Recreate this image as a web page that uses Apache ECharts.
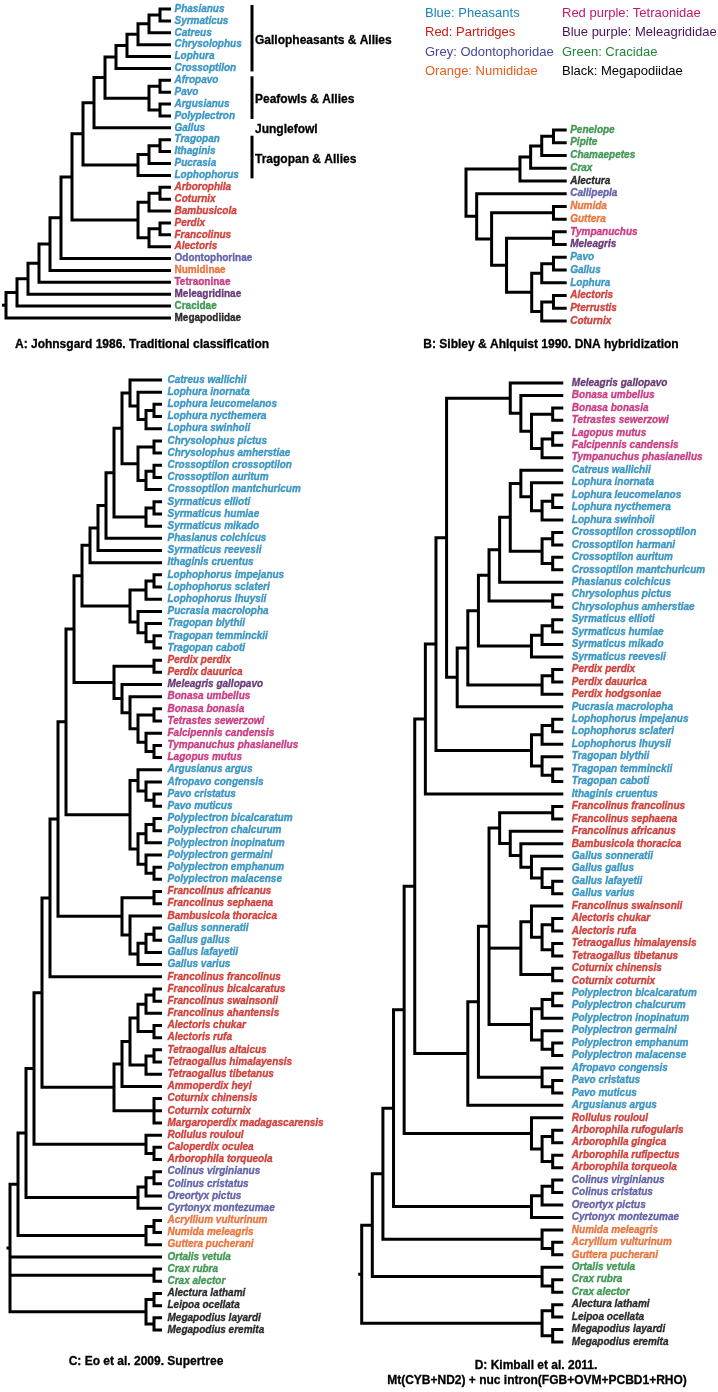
<!DOCTYPE html>
<html><head><meta charset="utf-8">
<script src="https://cdn.jsdelivr.net/npm/echarts@6/dist/echarts.min.js"></script>
<style>html,body{margin:0;padding:0;background:#fff}#c{width:718px;height:1392px}</style>
</head><body><div id="c"></div>
<script>
// ---------- colour groups ----------
const groupColors = {B:'#1783b9', R:'#c81d16', G:'#46479a', O:'#e65c1c', T:'#c0186c', M:'#4a145c', C:'#1f8636', K:'#000000'};
const legendCol1 = [['Blue: Pheasants','B'],['Red: Partridges','R'],['Grey: Odontophoridae','G'],['Orange: Numididae','O']];
const legendCol2 = [['Red purple: Tetraonidae','T'],['Blue purple: Meleagrididae','M'],['Green: Cracidae','C'],['Black: Megapodiidae','K']];
const genusGroup = {
  Phasianus:'B',Syrmaticus:'B',Catreus:'B',Chrysolophus:'B',Lophura:'B',Crossoptilon:'B',Afropavo:'B',Pavo:'B',Argusianus:'B',
  Polyplectron:'B',Gallus:'B',Tragopan:'B',Ithaginis:'B',Pucrasia:'B',Lophophorus:'B',
  Arborophila:'R',Coturnix:'R',Bambusicola:'R',Perdix:'R',Francolinus:'R',Alectoris:'R',Pterrustis:'R',Tetraogallus:'R',
  Ammoperdix:'R',Margaroperdix:'R',Rollulus:'R',Caloperdix:'R',
  Odontophorinae:'G',Callipepla:'G',Colinus:'G',Oreortyx:'G',Cyrtonyx:'G',
  Numidinae:'O',Numida:'O',Guttera:'O',Acryllium:'O',
  Tetraoninae:'T',Tympanuchus:'T',Bonasa:'T',Tetrastes:'T',Falcipennis:'T',Lagopus:'T',
  Meleagridinae:'M',Meleagris:'M',
  Cracidae:'C',Penelope:'C',Pipite:'C',Chamaepetes:'C',Crax:'C',Ortalis:'C',
  Megapodiidae:'K',Alectura:'K',Leipoa:'K',Megapodius:'K'
};
const familyLabels = ['Odontophorinae','Numidinae','Tetraoninae','Meleagridinae','Cracidae','Megapodiidae'];

// ---------- Tree A (node = [depth, children...]) ----------
const A_galloph = [10, [11, [12, [13, [14, 'Phasianus', 'Syrmaticus'], 'Catreus'], 'Chrysolophus'], 'Lophura'], 'Crossoptilon'];
const A_peafowl = [13, [14, 'Afropavo', 'Pavo'], [14, 'Argusianus', 'Polyplectron']];
const A_tragopan = [12, [13, [14, 'Tragopan', 'Ithaginis'], 'Pucrasia'], 'Lophophorus'];
const A_partridge = [12, [13, [14, 'Arborophila', 'Coturnix'], 'Bambusicola'], [13, [14, 'Perdix', 'Francolinus'], 'Alectoris']];
const treeA = [0, [1, [2, [3, [4, [5, [6, [7, [8, [9, A_galloph, A_peafowl], 'Gallus'], A_tragopan], A_partridge], 'Odontophorinae'], 'Numidinae'], 'Tetraoninae'], 'Meleagridinae'], 'Cracidae'], 'Megapodiidae'];
const A_groups = [
  ['Gallopheasants & Allies','Phasianus','Crossoptilon',true],
  ['Peafowls & Allies','Afropavo','Polyplectron',true],
  ['Junglefowl','Gallus','Gallus',false],
  ['Tragopan & Allies','Tragopan','Lophophorus',true]
];

// ---------- Tree B ----------
const B_cracid = [5.06, [6.06, [7.1, [8.2, 'Penelope', 'Pipite'], 'Chamaepetes'], 'Crax'], 'Alectura'];
const B_phasianid = [6.16, [7.1, [8.2, 'Pavo', 'Gallus'], 'Lophura'], [7.1, [8.2, 'Alectoris', 'Pterrustis'], 'Coturnix']];
const treeB = [0, B_cracid, [1, 'Callipepla', [2.4, [8.2, 'Numida', 'Guttera'], [3.8, [8.2, 'Tympanuchus', 'Meleagris'], B_phasianid]]]];

// ---------- Tree C ----------
const C_CL = [15, 'Catreus wallichii', [16, 'Lophura inornata', [17, [18, 'Lophura leucomelanos', 'Lophura nycthemera'], 'Lophura swinhoii']]];
const C_CC = [16, [18, 'Chrysolophus pictus', 'Chrysolophus amherstiae'], [17, [18, 'Crossoptilon crossoptilon', 'Crossoptilon auritum'], 'Crossoptilon mantchuricum']];
const C_syrm = [17, [18, 'Syrmaticus ellioti', 'Syrmaticus humiae'], 'Syrmaticus mikado'];
const C_pheas = [10, [11, [12, [13, [14, C_CL, C_CC], C_syrm], 'Phasianus colchicus'], 'Syrmaticus reevesii'], 'Ithaginis cruentus'];
const C_LT = [15, [17, [18, 'Lophophorus impejanus', 'Lophophorus sclateri'], 'Lophophorus lhuysii'], [16, 'Pucrasia macrolopha', [17, 'Tragopan blythii', [18, 'Tragopan temminckii', 'Tragopan caboti']]]];
const C_grouse = [13, [18, 'Perdix perdix', 'Perdix dauurica'], [14, 'Meleagris gallopavo', [15, 'Bonasa umbellus', [16, [18, 'Bonasa bonasia', 'Tetrastes sewerzowi'], [17, 'Falcipennis candensis', [18, 'Tympanuchus phasianellus', 'Lagopus mutus']]]]]];
const C_peafowl = [15, [16, 'Argusianus argus', [17, 'Afropavo congensis', [18, 'Pavo cristatus', 'Pavo muticus']]], [16, [17, [18, 'Polyplectron bicalcaratum', 'Polyplectron chalcurum'], 'Polyplectron inopinatum'], [17, 'Polyplectron germaini', [18, 'Polyplectron emphanum', 'Polyplectron malacense']]]];
const C_gallus = [14, [18, 'Francolinus africanus', 'Francolinus sephaena'], [15, 'Bambusicola thoracica', [16, [17, [18, 'Gallus sonneratii', 'Gallus gallus'], 'Gallus lafayetii'], 'Gallus varius']]];
const C_francolin = [13, [14, [15, [16, [17, [18, 'Francolinus bicalcaratus', 'Francolinus swainsonii'], 'Francolinus ahantensis'], [18, 'Alectoris chukar', 'Alectoris rufa']], [17, [18, 'Tetraogallus altaicus', 'Tetraogallus himalayensis'], 'Tetraogallus tibetanus']], 'Ammoperdix heyi'], [18, 'Coturnix chinensis', 'Coturnix coturnix', 'Margaroperdix madagascarensis']];
const C_rollulus = [17, 'Rollulus rouloul', [18, 'Caloperdix oculea', 'Arborophila torqueola']];
const C_odonto = [16, [17, [18, 'Colinus virginianus', 'Colinus cristatus'], 'Oreortyx pictus'], 'Cyrtonyx montezumae'];
const C_numid = [17, [18, 'Acryllium vulturinum', 'Numida meleagris'], 'Guttera pucherani'];
const C_mega = [17, [18, 'Alectura lathami', 'Leipoa ocellata'], [18, 'Megapodius layardi', 'Megapodius eremita']];
const treeC = [0, [1, [2, [3, [4, [5, [6, [7, [8, [9, C_pheas, C_LT], C_grouse], C_peafowl], C_gallus], 'Francolinus francolinus'], C_francolin], C_rollulus], C_odonto], C_numid], 'Ortalis vetula', [18, 'Crax rubra', 'Crax alector'], C_mega];

// ---------- Tree D ----------
const D_grouse = [14, 'Meleagris gallopavo', [15, 'Bonasa umbellus', [16, [18, 'Bonasa bonasia', 'Tetrastes sewerzowi'], [17, [18, 'Lagopus mutus', 'Falcipennis candensis'], 'Tympanuchus phasianellus']]]];
const D_lophura = [15, 'Catreus wallichii', [16, 'Lophura inornata', [17, [18, 'Lophura leucomelanos', 'Lophura nycthemera'], 'Lophura swinhoii']]];
const D_cross = [17, [18, 'Crossoptilon crossoptilon', 'Crossoptilon harmani'], [18, 'Crossoptilon auritum', 'Crossoptilon mantchuricum']];
const D_syrm = [16, [17, [18, 'Syrmaticus ellioti', 'Syrmaticus humiae'], 'Syrmaticus mikado'], 'Syrmaticus reevesii'];
const D_perdix = [17, [18, 'Perdix perdix', 'Perdix dauurica'], 'Perdix hodgsoniae'];
const D_pheas = [9, [10, [11, [12, [13, [14, D_lophura, D_cross], 'Phasianus colchicus'], [18, 'Chrysolophus pictus', 'Chrysolophus amherstiae']], D_syrm], D_perdix], 'Pucrasia macrolopha'];
const D_LT = [16, [17, [18, 'Lophophorus impejanus', 'Lophophorus sclateri'], 'Lophophorus lhuysii'], [17, 'Tragopan blythii', [18, 'Tragopan temminckii', 'Tragopan caboti']]];
const D_gallus = [13, [18, 'Francolinus francolinus', 'Francolinus sephaena'], [14, 'Francolinus africanus', [15, 'Bambusicola thoracica', [16, 'Gallus sonneratii', [17, 'Gallus gallus', [18, 'Gallus lafayetii', 'Gallus varius']]]]]];
const D_alectoris = [15, [16, 'Francolinus swainsonii', [17, [18, 'Alectoris chukar', 'Alectoris rufa'], [18, 'Tetraogallus himalayensis', 'Tetraogallus tibetanus']]], [18, 'Coturnix chinensis', 'Coturnix coturnix']];
const D_poly = [16, [17, [18, 'Polyplectron bicalcaratum', 'Polyplectron chalcurum'], 'Polyplectron inopinatum'], [17, 'Polyplectron germaini', [18, 'Polyplectron emphanum', 'Polyplectron malacense']]];
const D_pavo = [17, 'Afropavo congensis', [18, 'Pavo cristatus', 'Pavo muticus']];
const D_arbor = [16, 'Rollulus rouloul', [17, [18, 'Arborophila rufogularis', 'Arborophila gingica'], [18, 'Arborophila rufipectus', 'Arborophila torqueola']]];
const D_odonto = [16, [17, [18, 'Colinus virginianus', 'Colinus cristatus'], 'Oreortyx pictus'], 'Cyrtonyx montezumae'];
const D_numid = [17, 'Numida meleagris', [18, 'Acryllium vulturinum', 'Guttera pucherani']];
const D_cracid = [17, 'Ortalis vetula', [18, 'Crax rubra', 'Crax alector']];
const D_mega = [17, [18, 'Alectura lathami', 'Leipoa ocellata'], [18, 'Megapodius layardi', 'Megapodius eremita']];
const treeD = [0, [1, [2, [3, [4, [5, [6, [7, [8, D_grouse, D_pheas], D_LT], 'Ithaginis cruentus'], [10, [11, [12, D_gallus, D_alectoris, D_poly], D_pavo], 'Argusianus argus']], D_arbor], D_odonto], D_numid], D_cracid], D_mega];

// ---------- captions ----------
const captions = [
  ['A: Johnsgard 1986. Traditional classification', 142, 345],
  ['B: Sibley & Ahlquist 1990. DNA hybridization', 551, 345],
  ['C: Eo et al. 2009. Supertree', 146, 1362],
  ['D: Kimball et al. 2011.', 536, 1366],
  ['Mt(CYB+ND2) + nuc intron(FGB+OVM+PCBD1+RHO)', 537, 1381]
];

// ---------- layout helpers ----------
const FONT = 'Liberation Sans, Arial, Helvetica, sans-serif';
function layoutTree(tree, tip) {
  const leaves = [], segs = [];
  function walk(node) {
    if (typeof node === 'string') { const i = leaves.length; leaves.push(node); return {x: tip, y: i}; }
    const d = node[0];
    const kids = node.slice(1).map(walk);
    const f = kids[0], l = kids[kids.length - 1];
    segs.push([[f.x, f.y], [d, f.y], [d, l.y], [l.x, l.y]]);
    for (let j = 1; j < kids.length - 1; j++) segs.push([[d, kids[j].y], [kids[j].x, kids[j].y]]);
    return {x: d, y: (f.y + l.y) / 2};
  }
  const root = walk(tree);
  return {leaves, segs, root};
}
function colorOf(name) { return groupColors[genusGroup[name.split(' ')[0]]] || '#000'; }

const panels = [
  {tree: treeA, tip: 15,   grid: {left: 6,     top: 9,   width: 165,   height: 309},  gap: 3, stub: 4},
  {tree: treeB, tip: 9.44, grid: {left: 466,   top: 130, width: 100.7, height: 191},  gap: 3, stub: 0},
  {tree: treeC, tip: 19,   grid: {left: 10,    top: 380, width: 152,   height: 950},  gap: 5, stub: 3.5},
  {tree: treeD, tip: 19,   grid: {left: 361.7, top: 383, width: 201.6, height: 959},  gap: 8, stub: 3.5}
];

const grids = [], xAxes = [], yAxes = [], series = [];
const layouts = [];
panels.forEach((p, idx) => {
  const L = layoutTree(p.tree, p.tip);
  layouts.push(L);
  grids.push(Object.assign({containLabel: false, show: false}, p.grid));
  xAxes.push({type: 'value', gridIndex: idx, min: 0, max: p.tip, show: false});
  yAxes.push({type: 'value', gridIndex: idx, min: 0, max: L.leaves.length - 1, inverse: true, show: false});
  const items = L.segs.map(s => ({kind: 'line', pts: s}));
  if (p.stub > 0) items.push({kind: 'stub', pts: [[L.root.x, L.root.y]]});
  series.push({
    type: 'custom', xAxisIndex: idx, yAxisIndex: idx, coordinateSystem: 'cartesian2d',
    clip: false, silent: true, animation: false,
    data: items.map(it => it.pts[0]),
    renderItem: function (params, api) {
      const it = items[params.dataIndex];
      if (it.kind === 'stub') {
        const c = api.coord(it.pts[0]);
        return {type: 'line', shape: {x1: c[0] - p.stub, y1: c[1], x2: c[0], y2: c[1]}, style: {stroke: '#000', lineWidth: 3}};
      }
      return {type: 'polyline', shape: {points: it.pts.map(q => api.coord(q))},
        style: {stroke: '#000', lineWidth: 3, fill: null, lineJoin: 'miter', lineCap: 'butt'}};
    }
  });
  series.push({
    type: 'scatter', xAxisIndex: idx, yAxisIndex: idx, symbolSize: 1, silent: true, animation: false,
    itemStyle: {color: 'rgba(0,0,0,0)'},
    emphasis: {disabled: true},
    data: L.leaves.map((n, i) => ({
      value: [p.tip, i], name: n,
      label: {color: colorOf(n), textBorderColor: colorOf(n), fontStyle: familyLabels.indexOf(n) >= 0 ? 'normal' : 'italic'}
    })),
    label: {show: true, position: 'right', distance: p.gap, formatter: '{b}', fontSize: 10, fontWeight: 'bold',
      fontFamily: FONT, textBorderWidth: 0.35}
  });
});

// group brackets for panel A
const LA = layouts[0];
const groupItems = A_groups.map(g => [panels[0].tip, LA.leaves.indexOf(g[1]), LA.leaves.indexOf(g[2])]);
series.push({
  type: 'custom', xAxisIndex: 0, yAxisIndex: 0, coordinateSystem: 'cartesian2d', clip: false, silent: true, animation: false,
  data: groupItems,
  renderItem: function (params, api) {
    const g = A_groups[params.dataIndex];
    const top = api.coord([api.value(0), api.value(1)]);
    const bot = api.coord([api.value(0), api.value(2)]);
    const bx = top[0] + 81;
    const children = [];
    if (g[3]) children.push({type: 'line', shape: {x1: bx, y1: top[1] - 4, x2: bx, y2: bot[1] + 3}, style: {stroke: '#000', lineWidth: 3}});
    children.push({type: 'text', style: {text: g[0], x: bx + 3, y: (top[1] + bot[1]) / 2 + 2, fill: '#000',
      stroke: '#000', lineWidth: 0.3,
      font: 'bold 12px ' + FONT, textAlign: 'left', textVerticalAlign: 'middle', verticalAlign: 'middle'}});
    return {type: 'group', children: children};
  }
});

// legend + captions as text
const graphics = [];
legendCol1.forEach((l, i) => graphics.push({type: 'text', x: 425, y: 13 + i * 19.6,
  style: {text: l[0], fill: groupColors[l[1]], font: '13px ' + FONT, textAlign: 'left', textVerticalAlign: 'middle', verticalAlign: 'middle'}}));
legendCol2.forEach((l, i) => graphics.push({type: 'text', x: 562, y: 13 + i * 19.6,
  style: {text: l[0], fill: groupColors[l[1]], font: '13px ' + FONT, textAlign: 'left', textVerticalAlign: 'middle', verticalAlign: 'middle'}}));
captions.forEach(c => graphics.push({type: 'text', x: c[1], y: c[2],
  style: {text: c[0], fill: '#000', stroke: '#000', lineWidth: 0.3, font: 'bold 12px ' + FONT, textAlign: 'center', textVerticalAlign: 'middle', verticalAlign: 'middle'}}));

const chart = echarts.init(document.getElementById('c'), null, {renderer: 'canvas'});
chart.setOption({
  backgroundColor: '#ffffff',
  animation: false,
  grid: grids, xAxis: xAxes, yAxis: yAxes,
  series: series,
  graphic: graphics
});
</script>
</body></html>
